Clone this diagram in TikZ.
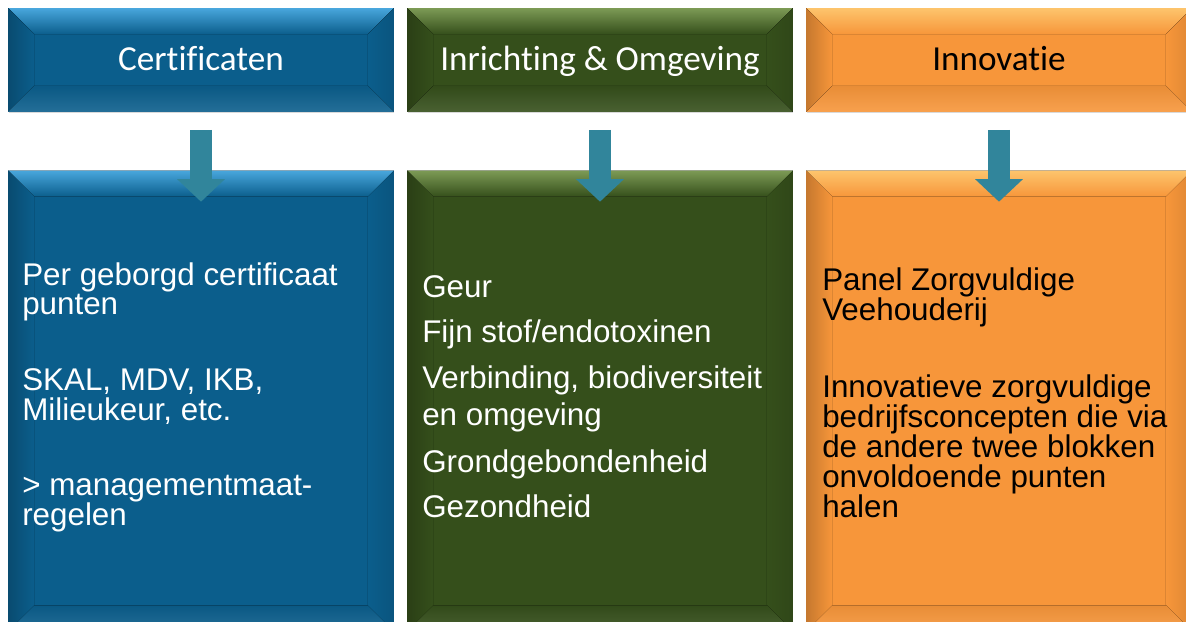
\documentclass[tikz,border=0pt]{standalone}
\usepackage{fontspec}
\setmainfont{Liberation Sans}
\newfontfamily\headfont[Ligatures=NoCommon]{Carlito}
\usetikzlibrary{arrows.meta,shadows}

\definecolor{certblue}{HTML}{0B5E8C}
\definecolor{certlight}{HTML}{48A6DC}
\definecolor{envgreen}{HTML}{354F1B}
\definecolor{envlight}{HTML}{7C9A55}
\definecolor{innorange}{HTML}{F7963A}
\definecolor{innlight}{HTML}{FDC46C}
\definecolor{arrowteal}{HTML}{31859B}

\tikzset{
  block/.style={rectangle, inner sep=0pt, minimum width=385*0.025cm,
    drop shadow={shadow xshift=0.4pt, shadow yshift=-1.4pt, opacity=0.3}},
  headblock/.style={block, minimum height=103*0.025cm},
  headtext/.style={inner sep=0pt, font=\headfont\fontsize{25}{30}\selectfont,
    text height=17pt, text depth=5pt},
  bodyblock/.style={block, minimum height=460*0.025cm},
  item/.style={anchor=base west, inner sep=0pt, font=\fontsize{22.3}{26}\selectfont},
  flow/.style={draw=arrowteal, line width=15.6pt, -{Triangle[width=33pt, length=16pt]}}
}

% bevelled edges: node, base colour, light colour
\newcommand\bevel[3]{%
  \fill[top color=#3, bottom color=#2] (#1.north west) -- (#1.north east)
    -- ([shift={(-26,-26)}]#1.north east) -- ([shift={(26,-26)}]#1.north west) -- cycle;
  \fill[left color=#2!80!black, right color=#2] (#1.north west) -- ([shift={(26,-26)}]#1.north west)
    -- ([shift={(26,26)}]#1.south west) -- (#1.south west) -- cycle;
  \fill[left color=#2, right color=#2!90!black] (#1.north east) -- ([shift={(-26,-26)}]#1.north east)
    -- ([shift={(-26,26)}]#1.south east) -- (#1.south east) -- cycle;
  \fill[top color=#2!94!black, bottom color=#2!90!white] (#1.south west) -- ([shift={(26,26)}]#1.south west)
    -- ([shift={(-26,26)}]#1.south east) -- (#1.south east) -- cycle;
}

\begin{document}
\begin{tikzpicture}[x=0.025cm, y=0.025cm]
\clip (0,0) rectangle (1186,621);

% headers
\node[headblock, fill=certblue] (cert) at (201,561) {};
\node[headblock, fill=envgreen] (env) at (600,561) {};
\node[headblock, fill=innorange] (inno) at (999,561) {};

% bodies
\node[bodyblock, fill=certblue] (cert-body) at (201,220) {};
\node[bodyblock, fill=envgreen] (env-body) at (600,220) {};
\node[bodyblock, fill=innorange] (inno-body) at (999,220) {};

\bevel{cert}{certblue}{certlight}
\bevel{env}{envgreen}{envlight}
\bevel{inno}{innorange}{innlight}
\bevel{cert-body}{certblue}{certlight}
\bevel{env-body}{envgreen}{envlight}
\bevel{inno-body}{innorange}{innlight}

\node[headtext, text=white] (cert-title) at ([shift={(0,-2)}]cert) {Certificaten};
\node[headtext, text=white] (env-title) at ([shift={(0,-2)}]env) {Inrichting \& Omgeving};
\node[headtext] (inno-title) at ([shift={(0,-2)}]inno) {Innovatie};

\foreach \n in {cert,env,inno}
  \draw[flow] ([shift={(0,-18)}]\n.south) -- ([shift={(0,-31)}]\n-body.north);

\foreach \t/\y in {Per geborgd certificaat/285, punten/314, {SKAL, MDV, IKB,}/390,
    {Milieukeur, etc.}/420, {> managementmaat-}/495, regelen/525}
  \node[item, text=white] (cert-l\y) at (22,621-\y) {\t};

\foreach \t/\y in {Geur/297, {Fijn stof/endotoxinen}/342, {Verbinding, biodiversiteit}/388,
    en omgeving/425, Grondgebondenheid/472, Gezondheid/517}
  \node[item, text=white] (env-l\y) at (422,621-\y) {\t};

\foreach \t/\y in {Panel Zorgvuldige/290, Veehouderij/320, Innovatieve zorgvuldige/397,
    bedrijfsconcepten die via/427, de andere twee blokken/457, onvoldoende punten/487, halen/517}
  \node[item] (inno-l\y) at (822,621-\y) {\t};
\end{tikzpicture}
\end{document}
